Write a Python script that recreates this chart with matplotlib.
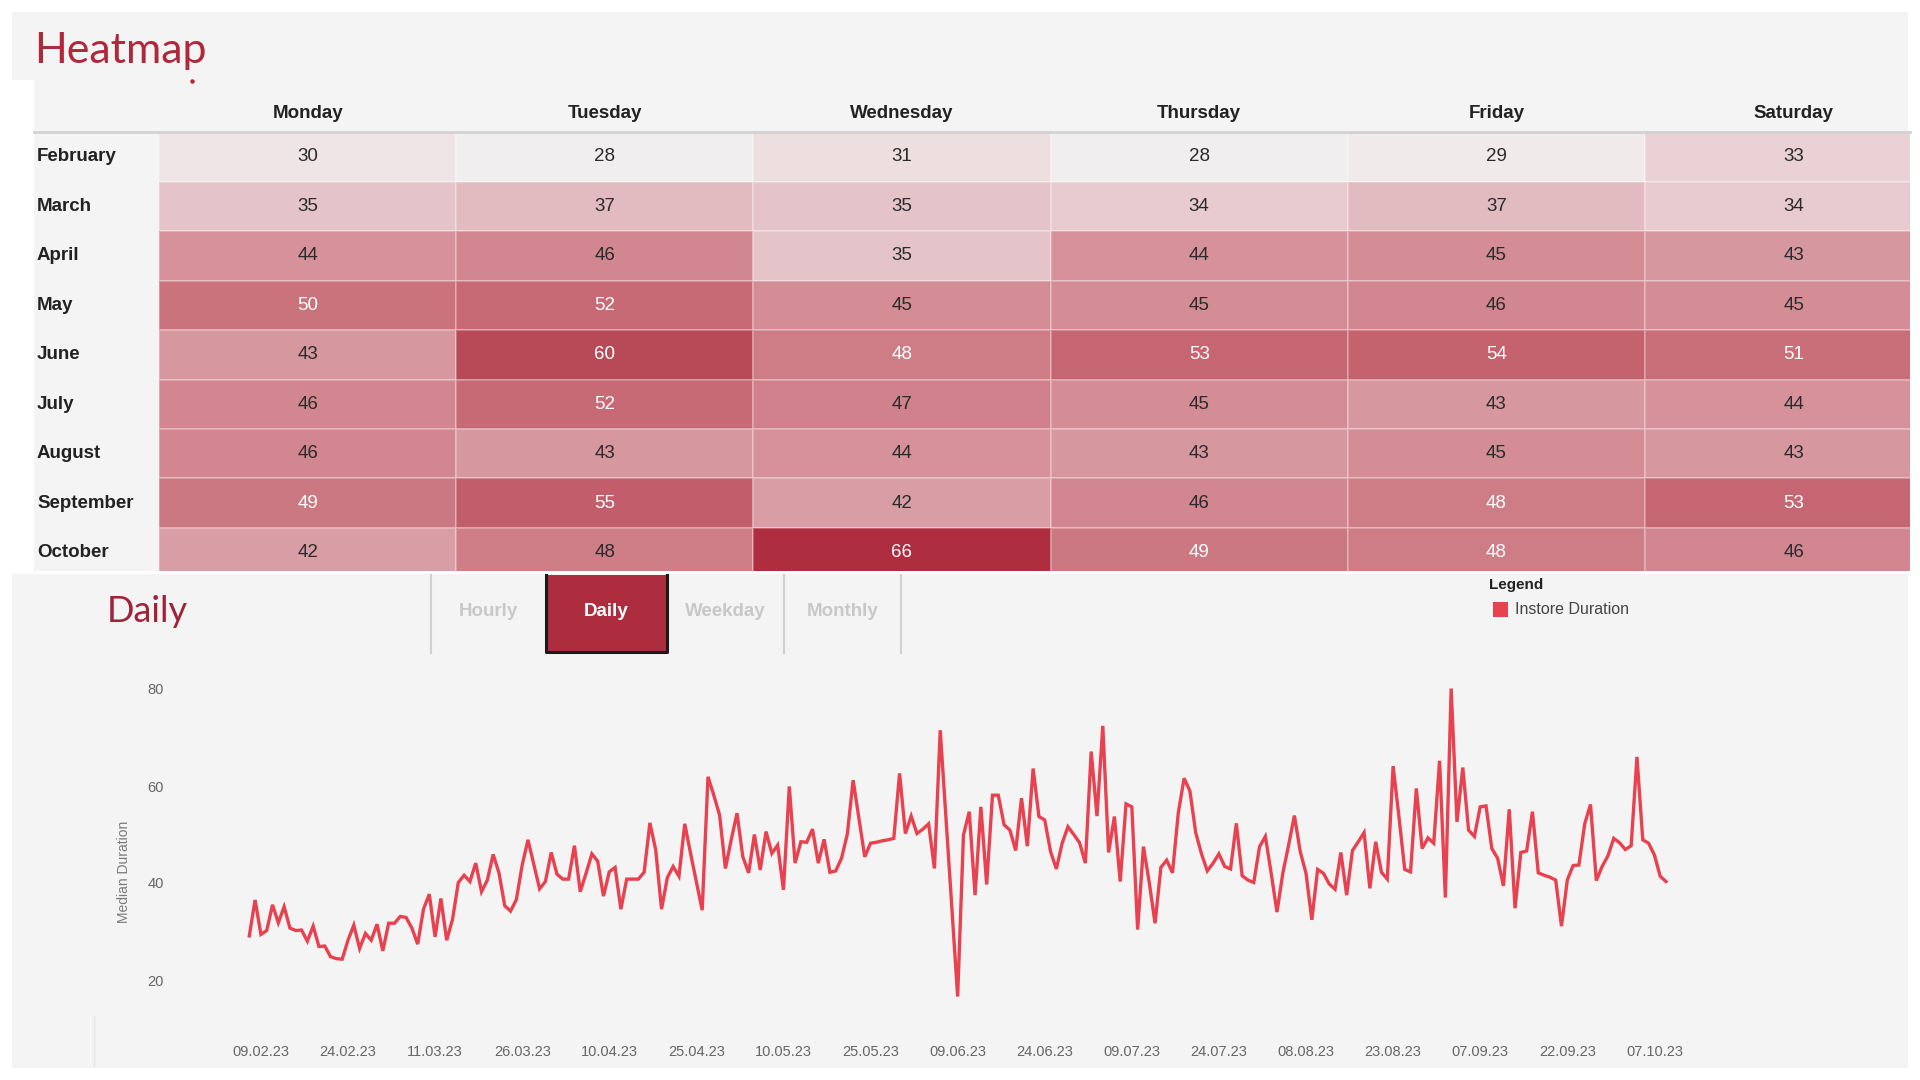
import numpy as np
import pandas as pd
import matplotlib
matplotlib.use("Agg")
import matplotlib.pyplot as plt
import matplotlib.dates as mdates
from matplotlib.colors import LinearSegmentedColormap
from matplotlib.patches import Rectangle
from matplotlib.lines import Line2D

# heatmap data
months = ['February', 'March', 'April', 'May', 'June', 'July', 'August', 'September', 'October']
weekdays = ['Monday', 'Tuesday', 'Wednesday', 'Thursday', 'Friday', 'Saturday']
heat_values = [
    [30, 28, 31, 28, 29, 33],
    [35, 37, 35, 34, 37, 34],
    [44, 46, 35, 44, 45, 43],
    [50, 52, 45, 45, 46, 45],
    [43, 60, 48, 53, 54, 51],
    [46, 52, 47, 45, 43, 44],
    [46, 43, 44, 43, 45, 43],
    [49, 55, 42, 46, 48, 53],
    [42, 47.6, 66, 49, 48, 46],
]

# daily median duration, one value per day starting 07.02.23
start_day = '2023-02-07'
daily_median = [
    29.1, 36.5, 29.4, 30.2, 35.5, 31.8, 35.1, 30.7, 30.2, 30.3,
    28.0, 31.1, 26.9, 27.0, 24.8, 24.4, 24.3, 28.2, 31.3, 26.5,
    29.6, 28.2, 31.5, 26.0, 31.7, 31.7, 33.1, 32.9, 30.7, 27.4,
    34.6, 37.7, 28.9, 36.8, 28.2, 32.5, 40.1, 41.6, 40.3, 44.1,
    38.2, 40.6,
    45.9, 42.1, 35.3, 34.2, 36.6, 43.7, 48.9, 43.8, 38.8, 40.3,
    46.3, 41.8, 40.8, 40.8, 47.7, 38.2, 42.0, 46.0, 44.5, 37.3,
    42.3, 43.2, 34.6, 40.8, 40.8, 40.8, 42.2, 52.4, 46.8, 34.6,
    41.1, 43.4, 41.4, 52.2, 46.1, 40.3, 34.4, 61.9, 58.1, 54.0,
    43.0,
    48.9, 54.4, 45.4, 42.1, 50.0, 42.7, 50.6, 46.1, 47.8, 38.6,
    59.9, 44.1, 48.5, 48.4, 51.1, 44.1, 49.0, 42.2, 42.5, 45.1,
    50.1, 61.2, 53.3, 45.4, 48.2, 48.4, 48.7, 48.9, 49.2, 62.6,
    50.2, 53.8, 50.2, 51.1, 52.2, 43.0, 71.5, 53.2, 34.9, 16.6,
    49.9, 54.7,
    37.5, 55.7, 39.7, 58.1, 58.1, 52.0, 50.9, 46.7, 57.5, 47.6,
    63.6, 53.7, 53.0, 46.5, 42.9, 48.2, 51.6, 50.0, 48.3, 44.1,
    67.1, 53.8, 72.4, 46.3, 53.7, 40.3, 56.3, 55.7, 30.4, 47.5,
    40.1, 31.7, 43.2, 44.7, 42.1, 54.4, 61.6, 59.0, 50.4, 46.0,
    42.5,
    44.1, 46.0, 43.4, 42.9, 52.3, 41.5, 40.6, 40.1, 47.5, 49.6,
    42.0, 34.0, 42.0, 47.8, 53.9, 46.5, 42.0, 32.4, 42.8, 42.0,
    39.8, 38.7, 46.3, 37.5, 46.7, 48.5, 50.4, 38.9, 48.5, 42.2,
    40.8, 64.1, 53.7, 42.8, 42.3, 59.5, 47.1, 49.3, 48.2, 65.2,
    37.0,
    80.1, 52.6, 63.8, 50.9, 49.6, 55.7, 55.9, 47.1, 45.1, 39.4,
    55.2, 34.8, 46.3, 46.6, 54.7, 42.1, 41.6, 41.2, 40.6, 31.1,
    40.6, 43.6, 43.7, 52.2, 56.2, 40.5, 43.4, 45.6, 49.2, 48.3,
    46.9, 47.7, 66.0, 48.9, 48.2, 45.8, 41.4, 40.3,
]
tab_names = ['Hourly', 'Daily', 'Weekday', 'Monthly']
active_tab = 'Daily'
series_name = 'Instore Duration'

W, H = 1920, 1080


def fx(px):
    return px / W


def fy(py):
    return 1 - py / H


fig = plt.figure(figsize=(19.2, 10.8), dpi=100)
fig.patch.set_facecolor('white')

panel = '#f4f4f4'
# panels
fig.add_artist(Rectangle((fx(12), fy(80)), fx(1908) - fx(12), (80 - 12) / H,
                         transform=fig.transFigure, color=panel, lw=0, zorder=0))
fig.add_artist(Rectangle((fx(34), fy(571)), fx(1908) - fx(34), (571 - 79) / H,
                         transform=fig.transFigure, color=panel, lw=0, zorder=0))
fig.add_artist(Rectangle((fx(12), fy(1068)), fx(1908) - fx(12), (1068 - 574) / H,
                         transform=fig.transFigure, color=panel, lw=0, zorder=0))

# ---- Heatmap ----
fig.text(fx(34), fy(51), 'Heatmap', family='Lato', fontsize=31, color='#b0283c',
         ha='left', va='center')
fig.add_artist(Line2D([fx(192)], [fy(81)], marker='o', ms=2.2, color='#b0283c',
                      transform=fig.transFigure))

col_w, row_h = 297.2, 49.5
top, bottom, left, right = 132, 571, 159, 1910
ax_hm = fig.add_axes([fx(left), fy(bottom), fx(right) - fx(left), (bottom - top) / H])
ax_hm.set_facecolor('none')

# colour scale sampled from the reference cells
vmin, vmax = 28, 66
stops = [(28, '#f0eeef'), (30, '#efe4e6'), (35, '#e5c4c9'), (37, '#e1bbc0'),
         (44, '#d6919a'), (46, '#d28690'), (50, '#ca737d'), (52, '#c86a76'),
         (60, '#b84a58'), (66, '#ae2e40')]
cmap = LinearSegmentedColormap.from_list(
    'reds', [((v - vmin) / (vmax - vmin), c) for v, c in stops])
vals = np.array(heat_values, dtype=float)
ax_hm.pcolormesh(np.arange(len(weekdays) + 1), np.arange(len(months) + 1), vals,
                 cmap=cmap, vmin=vmin, vmax=vmax, edgecolors=(1, 1, 1, 0.25), linewidth=1.2)
ax_hm.set_xlim(0, (right - left) / col_w)
ax_hm.set_ylim((bottom - top) / row_h, 0)
ax_hm.axis('off')

for i, m in enumerate(months):
    ax_hm.text(-(left - 37) / col_w, i + 0.5, m, ha='left', va='center',
               family='Liberation Sans', fontweight='bold', fontsize=13.5,
               color='#222222', clip_on=False)
    for j in range(len(weekdays)):
        v = vals[i, j]
        ax_hm.text(j + 0.5, i + 0.5, f'{v:.0f}', ha='center', va='center',
                   family='Liberation Sans', fontsize=13.5,
                   color='white' if v >= 48 else '#2a2a2a')
for j, d in enumerate(weekdays):
    ax_hm.text(j + 0.5, -(top - 114) / row_h, d, ha='center', va='center',
               family='Liberation Sans', fontweight='bold', fontsize=13.5,
               color='#222222', clip_on=False)
fig.add_artist(Line2D([fx(34), fx(1910)], [fy(132), fy(132)], color='#d2d2d2', lw=2,
                      transform=fig.transFigure))

# ---- Daily panel ----
fig.text(fx(107), fy(612), 'Daily', family='Lato', fontsize=26, color='#a02338',
         ha='left', va='center')

tab_edges = [431, 546, 667, 784, 901]
for k, name in enumerate(tab_names):
    x0, x1 = tab_edges[k], tab_edges[k + 1]
    cx = (x0 + x1) / 2
    if name == active_tab:
        fig.add_artist(Rectangle((fx(x0), fy(653)), fx(x1) - fx(x0), (653 - 575) / H,
                                 transform=fig.transFigure, facecolor='#ad2d3f',
                                 edgecolor='none', zorder=2))
        fig.add_artist(Line2D([fx(x0), fx(x0), fx(x1), fx(x1)],
                              [fy(575), fy(652), fy(652), fy(575)],
                              color='#1a1a1a', lw=2.2, transform=fig.transFigure, zorder=3))
        color = 'white'
    else:
        color = '#c8c8c8'
    fig.text(fx(cx), fy(612), name, ha='center', va='center', family='Liberation Sans',
             fontweight='bold', fontsize=13.5, color=color, zorder=4)
for x in [431, 784, 901]:
    fig.add_artist(Line2D([fx(x), fx(x)], [fy(575), fy(653)], color='#d0d0d0', lw=1.5,
                          transform=fig.transFigure))

# legend
fig.text(fx(1489), fy(585), 'Legend', family='Liberation Sans', fontweight='bold',
         fontsize=11, color='#222222', ha='left', va='center')
fig.add_artist(Rectangle((fx(1493), fy(617)), 15 / W, 15 / H, transform=fig.transFigure,
                         color='#e8414f', lw=0))
fig.text(fx(1515), fy(609), series_name, family='Liberation Sans', fontsize=11.5,
         color='#444444', ha='left', va='center')

# line chart
dates = pd.date_range(start_day, periods=len(daily_median), freq='D')
px_per_day = (1666 - 249.3) / (len(daily_median) - 1)
ax = fig.add_axes([fx(175), fy(1030), fx(1760) - fx(175), (1030 - 680) / H])
ax.set_facecolor('none')
ax.plot(dates, daily_median, color='#e8414f', lw=2.4, solid_joinstyle='miter')
d0 = mdates.date2num(dates[0])
d1 = mdates.date2num(dates[-1])
ax.set_xlim(d0 - (249.3 - 175) / px_per_day, d1 + (1760 - 1666) / px_per_day)
ax.set_ylim(80 - (1030 - 689) / 4.85, 80 - (680 - 689) / 4.85)
ax.set_yticks([20, 40, 60, 80])
ax.set_xticks(pd.date_range('2023-02-09', '2023-10-07', freq='15D'))
ax.xaxis.set_major_formatter(mdates.DateFormatter('%d.%m.%y'))
for s in ax.spines.values():
    s.set_visible(False)
ax.tick_params(axis='both', length=0, labelsize=10.5, labelcolor='#666666')
ax.tick_params(axis='x', pad=11)
ax.tick_params(axis='y', pad=8)
for lab in ax.get_xticklabels() + ax.get_yticklabels():
    lab.set_family('Liberation Sans')

fig.text(fx(124), fy(872), 'Median Duration', rotation=90, ha='center', va='center',
         family='Liberation Sans', fontsize=10, color='#7a7a7a')
fig.add_artist(Line2D([fx(94), fx(94)], [fy(1016), fy(1066)], color='#e6e6e6', lw=1,
                      transform=fig.transFigure))

fig.savefig('out.png', dpi=100, facecolor='white')
